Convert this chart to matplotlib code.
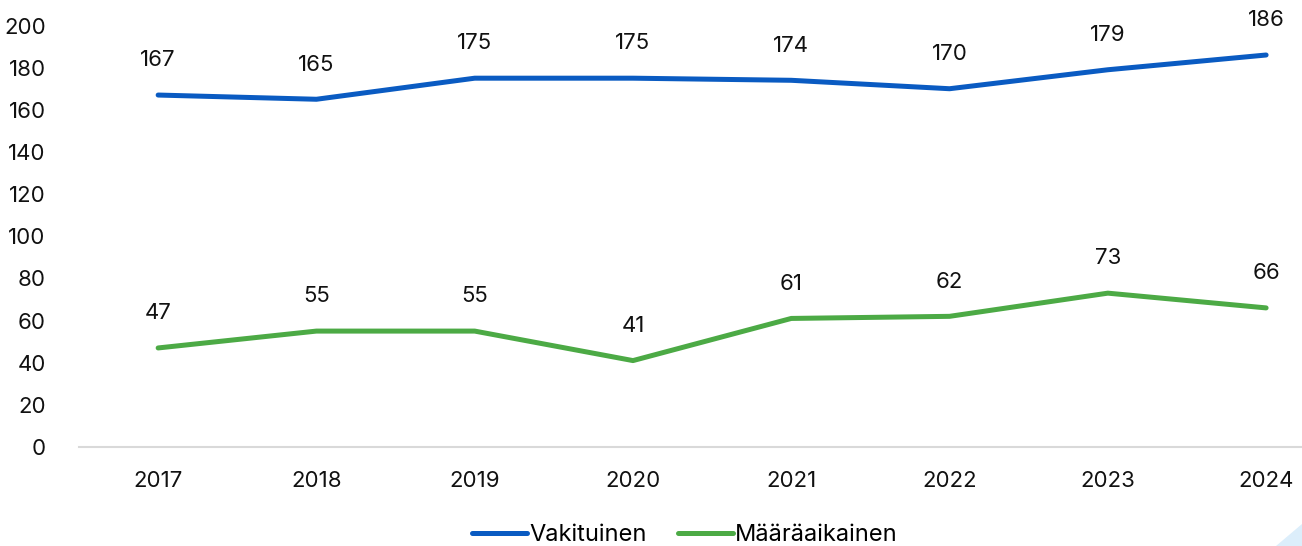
import numpy as np
import matplotlib.pyplot as plt
from matplotlib.patches import Polygon

years = ["2017", "2018", "2019", "2020", "2021", "2022", "2023", "2024"]
vakituinen = [167, 165, 175, 175, 174, 170, 179, 186]
maaraaikainen = [47, 55, 55, 41, 61, 62, 73, 66]

BLUE = "#0A5BC2"
GREEN = "#4CAA45"

plt.rcParams['font.family'] = ['Inter', 'DejaVu Sans']

W, H = 1302, 546
fig = plt.figure(figsize=(W / 100, H / 100), dpi=100)
ax = fig.add_axes([79 / W, 99 / H, (W - 79) / W, 421.5 / H])

x = np.arange(len(years))
ax.plot(x, vakituinen, color=BLUE, lw=3.6, solid_capstyle='round', label="Vakituinen")
ax.plot(x, maaraaikainen, color=GREEN, lw=3.6, solid_capstyle='round', label="Määräaikainen")

# arvot viivan yläpuolelle
for serie in (vakituinen, maaraaikainen):
    for xi, v in zip(x, serie):
        ax.annotate(str(v), (xi, v), xytext=(0, 25), textcoords='offset points',
                    ha='center', va='center', fontsize=16, color='#111111')

ax.set_ylim(0, 200)
ax.set_yticks(range(0, 201, 20))
ax.set_xlim(-0.5, (W - 158) / 158.3)
ax.set_xticks(x, years)
ax.tick_params(axis='both', length=0, labelsize=16, colors='#111111')
ax.tick_params(axis='y', pad=24)
ax.tick_params(axis='x', pad=17)
for s in ['top', 'right', 'left']:
    ax.spines[s].set_visible(False)
ax.spines['bottom'].set_color('#D9D9D9')
ax.spines['bottom'].set_linewidth(1.5)
ax.patch.set_alpha(0)

fig.legend(loc='center', bbox_to_anchor=(685 / W, 1 - 535 / H), ncol=2, frameon=False,
           fontsize=17, handlelength=2.3, handletextpad=0.1, columnspacing=1.35)

# pieni vaaleansininen kulma oikeassa alakulmassa
fig.patches.append(Polygon([(1276 / W, 0), (1, 0), (1, 22 / H)], closed=True,
                           transform=fig.transFigure, facecolor='#DCEEFB',
                           edgecolor='none'))

fig.savefig("out.png", dpi=100)
